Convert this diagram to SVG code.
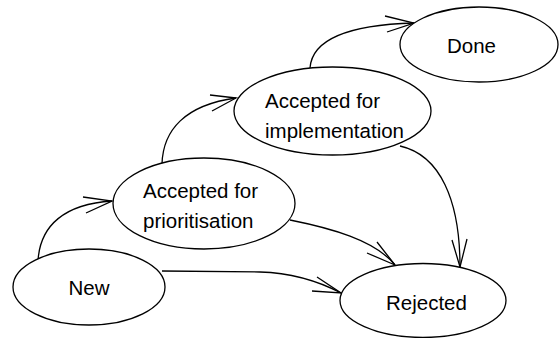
<svg xmlns="http://www.w3.org/2000/svg" width="560" height="338" viewBox="0 0 560 338">
<style>
.n{fill:#fff;stroke:#000;stroke-width:1.3}
.t{font-family:"Liberation Sans",Arial,sans-serif;font-size:20.5px;fill:#000}
.e{fill:none;stroke:#000;stroke-width:1.3}
</style>
<rect width="560" height="338" fill="#fff"/>
<g id="connectors">
<path class="e" d="M38,261 C40,225 65,204 112,201"/>
<path class="e" d="M83,197 L112,201 L86,213"/>
<path class="e" d="M162,164 C163,130 185,105 236,98"/>
<path class="e" d="M210,95 L236,98 L212,111"/>
<path class="e" d="M310,68 C312,40 345,25 414,23"/>
<path class="e" d="M385,16 L414,23 L387,32"/>
<path class="e" d="M162,271 L260,272 C295,273 320,282 341,293"/>
<path class="e" d="M312,291 L341,293 L317,277"/>
<path class="e" d="M290,220 C330,228 375,240 395,265"/>
<path class="e" d="M367,253 L395,265 L377,242"/>
<path class="e" d="M400,146 C440,155 460,200 460,267"/>
<path class="e" d="M452,240 L460,267 L467,239"/>
</g>
<g id="new">
<ellipse class="n" cx="89" cy="287" rx="76" ry="38"/>
<text class="t" x="89" y="295" text-anchor="middle">New</text>
</g>
<g id="prioritisation">
<ellipse class="n" cx="204" cy="203.5" rx="91" ry="45.5"/>
<text class="t" x="143" y="198">Accepted for</text>
<text class="t" x="143" y="228">prioritisation</text>
</g>
<g id="implementation">
<ellipse class="n" cx="332.5" cy="111" rx="98.5" ry="44"/>
<text class="t" x="265" y="108">Accepted for</text>
<text class="t" x="265" y="138">implementation</text>
</g>
<g id="done">
<ellipse class="n" cx="479" cy="44.5" rx="79" ry="37.5"/>
<text class="t" x="447" y="53">Done</text>
</g>
<g id="rejected">
<ellipse class="n" cx="423" cy="300.5" rx="83" ry="37"/>
<text class="t" x="386" y="310">Rejected</text>
</g>
</svg>
